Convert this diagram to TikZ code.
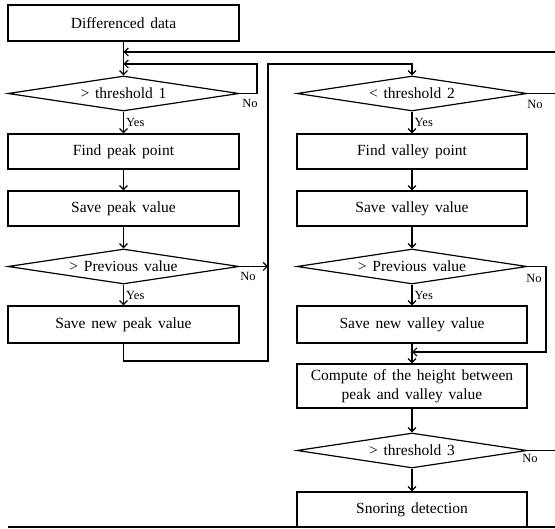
\documentclass[tikz,border=0pt]{standalone}
\usepackage{fontspec}
\setmainfont[WordSpace=1.5]{Liberation Serif}
\usetikzlibrary{shapes.geometric,arrows.meta}
\begin{document}
\begin{tikzpicture}[x=1pt,y=-1pt,
 every node/.style={font=\fontsize{15.5}{19}\selectfont},
 box/.style={draw, line width=1.2pt, minimum width=231pt, inner sep=0pt, align=center},
 dec/.style={draw, diamond, line width=1.2pt, minimum width=231pt, minimum height=35pt, aspect=6.6, inner sep=0pt},
 lbl/.style={font=\fontsize{12.5}{14}\selectfont, inner sep=0pt},
 conn/.style={line width=1.2pt},
 arr/.style={conn, -{Straight Barb[length=4pt,width=8pt]}}]
\useasboundingbox (0,0) rectangle (555,529);
% left column
\node[box, minimum height=36pt] (diff) at (123.5,23) {Differenced data};
\node[dec] (d1) at (123.5,93.5) {> threshold 1};
\node[box, minimum height=35pt] (fpp) at (123.5,151.5) {Find peak point};
\node[box, minimum height=35pt] (spv) at (123.5,208.5) {Save peak value};
\node[dec] (dL) at (123.5,266.5) {> Previous value};
\node[box, minimum height=37pt] (snpv) at (123.5,324.5) {Save new peak value};
% right column
\node[dec, minimum width=230pt] (d2) at (412,93.5) {< threshold 2};
\node[box, minimum width=230pt, minimum height=35pt] (fvp) at (412,151.5) {Find valley point};
\node[box, minimum width=230pt, minimum height=35pt] (svv) at (412,208.5) {Save valley value};
\node[dec, minimum width=230pt] (dR) at (412,266.5) {> Previous value};
\node[box, minimum width=230pt, minimum height=37pt] (snvv) at (412,324.5) {Save new valley value};
\node[box, minimum width=230pt, minimum height=44pt] (comp) at (412,386) {Compute of the height between\\peak and valley value};
\node[dec, minimum width=230pt] (d3) at (412,450.5) {> threshold 3};
\node[box, minimum width=230pt, minimum height=35pt] (snore) at (412,509.5) {Snoring detection};
% junction coordinates
\coordinate (j0) at (123.5,52);
\coordinate (j1) at (123.5,64);
\coordinate (e0) at (555,52);
\coordinate (e1) at (555,93.5);
\coordinate (e3) at (555,450.5);
\coordinate (j2) at (268,266.5);
\coordinate (j3) at (412,352);
\coordinate (b0) at (8,527);
\coordinate (b1) at (555,527);
% connectors
\draw[arr] (diff) -- (d1);
\draw[arr] (e0) -- (j0);
\draw[arr] (d1.east) -| (257,64) -- (j1);
\draw[arr] (d1) -- (fpp);
\draw[arr] (fpp) -- (spv);
\draw[arr] (spv) -- (dL);
\draw[arr] (dL.east) -- (j2);
\draw[arr] (dL) -- (snpv);
\draw[arr] (snpv.south) |- (268,361) -- (268,64) -| (d2.north);
\draw[conn] (d2.east) -- (e1);
\draw[arr] (d2) -- (fvp);
\draw[arr] (fvp) -- (svv);
\draw[arr] (svv) -- (dR);
\draw[arr] (dR) -- (snvv);
\draw[arr] (dR.east) -| (546,352) -- (j3);
\draw[arr] (snvv) -- (comp);
\draw[arr] (comp) -- (d3);
\draw[conn] (d3.east) -- (e3);
\draw[arr] (d3) -- (snore);
\draw[conn] (b0) -- (b1);
% labels
\node[lbl, anchor=west] (y1) at (126,122) {Yes};
\node[lbl, anchor=west] (y2) at (126,295) {Yes};
\node[lbl, anchor=west] (y3) at (414.5,122) {Yes};
\node[lbl, anchor=west] (y4) at (414.5,295) {Yes};
\node[lbl] (n1) at (250,103.5) {No};
\node[lbl] (n2) at (248,276.5) {No};
\node[lbl] (n3) at (535,104) {No};
\node[lbl] (n4) at (534,278) {No};
\node[lbl] (n5) at (530,458) {No};
\end{tikzpicture}
\end{document}
